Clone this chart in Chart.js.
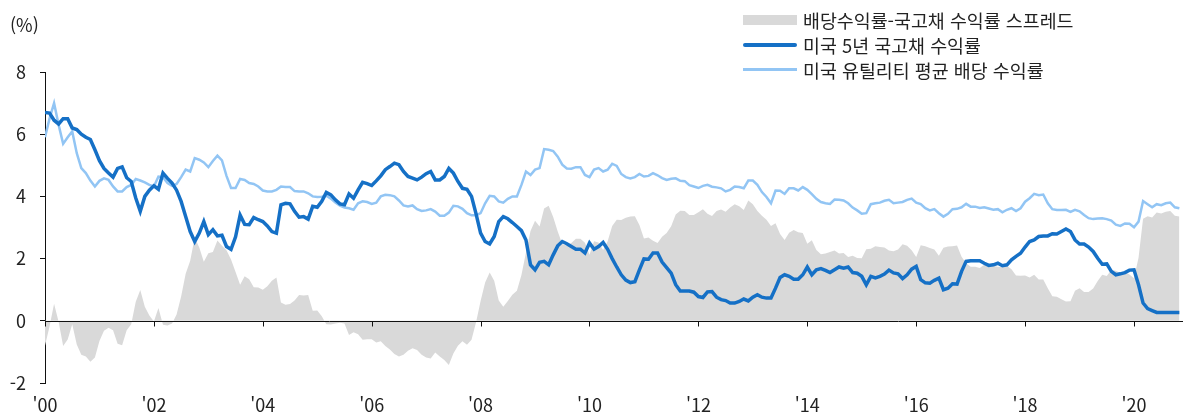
<!DOCTYPE html>
<html lang="ko">
<head>
<meta charset="utf-8">
<title>미국 유틸리티 배당 수익률과 5년 국고채 수익률</title>
<script src="https://cdn.jsdelivr.net/npm/chart.js@4.4.1/dist/chart.umd.min.js"></script>
<style>
  body { margin: 0; background: #fff; }
  #wrap { position: relative; width: 1188px; height: 417px; font-family: "Noto Sans CJK KR", "Noto Sans", sans-serif; color: #222; }
  #unit { position: absolute; left: 10px; top: 11px; font-size: 18px; }
  #legend { position: absolute; left: 743px; top: 7px; font-size: 18.4px; }
  .row { height: 25px; display: flex; align-items: center; }
  .sw { width: 54px; margin-right: 6px; }
</style>
</head>
<body>
<div id="wrap">
  <canvas id="chart1" width="1188" height="417"></canvas>
  <div id="unit">(%)</div>
  <div id="legend">
    <div class="row"><span class="sw" style="height:10px;background:#d9d9d9"></span>배당수익률-국고채 수익률 스프레드</div>
    <div class="row"><span class="sw" style="height:4px;border-radius:2px;background:#1570c6"></span>미국 5년 국고채 수익률</div>
    <div class="row"><span class="sw" style="height:3px;background:#92c5f4"></span>미국 유틸리티 평균 배당 수익률</div>
  </div>
</div>
<script>
// 월별 데이터: 2000년 1월 ~ 2020년 11월
var treasury5y = [
  6.70, 6.68, 6.45, 6.33, 6.50, 6.50, 6.20, 6.15, 6.00, 5.90, 5.83, 5.50,
  5.15, 4.90, 4.75, 4.62, 4.90, 4.95, 4.60, 4.48, 3.95, 3.52, 4.00, 4.20,
  4.34, 4.23, 4.75, 4.58, 4.43, 4.20, 3.84, 3.35, 2.87, 2.55, 2.82, 3.19,
  2.77, 2.93, 2.73, 2.75, 2.39, 2.30, 2.70, 3.40, 3.10, 3.09, 3.32, 3.25,
  3.19, 3.05, 2.87, 2.82, 3.73, 3.78, 3.76, 3.52, 3.33, 3.35, 3.27, 3.68,
  3.65, 3.84, 4.13, 4.05, 3.89, 3.76, 3.73, 4.08, 3.94, 4.21, 4.45, 4.41,
  4.35, 4.50, 4.66, 4.86, 4.96, 5.07, 5.02, 4.80, 4.64, 4.59, 4.53, 4.62,
  4.73, 4.80, 4.53, 4.53, 4.64, 4.90, 4.75, 4.48, 4.26, 4.23, 4.00, 3.44,
  2.82, 2.55, 2.47, 2.71, 3.19, 3.35, 3.28, 3.16, 3.03, 2.90, 2.60, 1.80,
  1.64, 1.88, 1.91, 1.80, 2.12, 2.41, 2.55, 2.48, 2.39, 2.30, 2.30, 2.18,
  2.50, 2.30, 2.39, 2.52, 2.30, 2.00, 1.73, 1.48, 1.31, 1.23, 1.26, 1.64,
  1.99, 1.98, 2.18, 2.18, 1.89, 1.71, 1.53, 1.16, 0.96, 0.96, 0.96, 0.92,
  0.78, 0.75, 0.93, 0.94, 0.76, 0.68, 0.65, 0.57, 0.57, 0.62, 0.70, 0.64,
  0.76, 0.84, 0.76, 0.73, 0.73, 1.05, 1.39, 1.48, 1.43, 1.34, 1.34, 1.48,
  1.73, 1.48, 1.64, 1.68, 1.62, 1.55, 1.64, 1.73, 1.69, 1.73, 1.55, 1.53,
  1.43, 1.16, 1.43, 1.38, 1.43, 1.50, 1.63, 1.54, 1.51, 1.36, 1.48, 1.66,
  1.75, 1.32, 1.22, 1.21, 1.30, 1.37, 1.00, 1.05, 1.19, 1.18, 1.59, 1.91,
  1.93, 1.93, 1.93, 1.85, 1.78, 1.80, 1.85, 1.77, 1.80, 1.96, 2.07, 2.17,
  2.37, 2.55, 2.60, 2.71, 2.73, 2.73, 2.80, 2.79, 2.87, 2.95, 2.87, 2.60,
  2.47, 2.47, 2.37, 2.23, 2.01, 1.82, 1.83, 1.59, 1.48, 1.51, 1.55, 1.63,
  1.64, 1.16, 0.57, 0.39, 0.33, 0.27, 0.27, 0.27, 0.27, 0.27, 0.27
];
var utilityYield = [
  5.90, 6.50, 7.00, 6.30, 5.69, 5.90, 6.09, 5.39, 4.91, 4.75, 4.51, 4.32,
  4.50, 4.58, 4.53, 4.32, 4.16, 4.16, 4.30, 4.37, 4.56, 4.51, 4.45, 4.37,
  4.32, 4.64, 4.62, 4.43, 4.34, 4.40, 4.62, 4.86, 4.80, 5.23, 5.18, 5.09,
  4.94, 5.14, 5.31, 5.16, 4.66, 4.27, 4.27, 4.56, 4.53, 4.43, 4.40, 4.32,
  4.19, 4.16, 4.16, 4.21, 4.32, 4.30, 4.30, 4.17, 4.16, 4.16, 4.10, 4.00,
  3.98, 3.99, 4.02, 3.93, 3.80, 3.70, 3.64, 3.62, 3.57, 3.78, 3.84, 3.82,
  3.76, 3.80, 4.00, 4.05, 4.04, 4.00, 3.87, 3.71, 3.68, 3.71, 3.59, 3.53,
  3.55, 3.59, 3.51, 3.38, 3.38, 3.48, 3.70, 3.68, 3.60, 3.46, 3.39, 3.39,
  3.46, 3.78, 4.02, 4.00, 3.84, 3.80, 3.92, 4.00, 4.00, 4.37, 4.80, 4.69,
  4.86, 4.91, 5.52, 5.50, 5.46, 5.28, 5.02, 4.90, 4.89, 4.94, 4.94, 4.69,
  4.62, 4.86, 4.91, 4.80, 4.86, 5.05, 4.98, 4.72, 4.62, 4.58, 4.62, 4.72,
  4.64, 4.66, 4.75, 4.68, 4.59, 4.53, 4.57, 4.58, 4.50, 4.49, 4.36, 4.32,
  4.27, 4.34, 4.37, 4.31, 4.29, 4.26, 4.16, 4.21, 4.32, 4.30, 4.26, 4.51,
  4.51, 4.37, 4.14, 3.98, 3.78, 4.19, 4.18, 4.08, 4.26, 4.26, 4.19, 4.30,
  4.21, 4.07, 3.92, 3.82, 3.78, 3.76, 3.90, 3.89, 3.87, 3.78, 3.64, 3.55,
  3.44, 3.46, 3.75, 3.78, 3.80, 3.86, 3.89, 3.78, 3.80, 3.82, 3.89, 3.93,
  3.80, 3.75, 3.62, 3.55, 3.59, 3.46, 3.35, 3.44, 3.59, 3.60, 3.65, 3.76,
  3.67, 3.67, 3.63, 3.65, 3.61, 3.57, 3.59, 3.49, 3.57, 3.62, 3.53, 3.62,
  3.83, 3.94, 4.08, 4.04, 4.06, 3.78, 3.59, 3.56, 3.56, 3.57, 3.50, 3.57,
  3.52, 3.40, 3.30, 3.27, 3.29, 3.30, 3.27, 3.22, 3.09, 3.05, 3.13, 3.12,
  3.01, 3.19, 3.85, 3.75, 3.65, 3.75, 3.72, 3.78, 3.80, 3.65, 3.62
];
var spread = [
  -0.80, -0.18, 0.55, -0.03, -0.81, -0.60, -0.11, -0.76, -1.09, -1.15, -1.32, -1.18,
  -0.65, -0.32, -0.22, -0.30, -0.74, -0.79, -0.30, -0.11, 0.61, 0.99, 0.45, 0.17,
  -0.02, 0.41, -0.13, -0.15, -0.09, 0.20, 0.78, 1.51, 1.93, 2.68, 2.36, 1.90,
  2.17, 2.21, 2.58, 2.41, 2.27, 1.97, 1.57, 1.16, 1.43, 1.34, 1.08, 1.07,
  1.00, 1.11, 1.29, 1.39, 0.59, 0.52, 0.54, 0.65, 0.83, 0.81, 0.83, 0.32,
  0.33, 0.15, -0.11, -0.12, -0.09, -0.06, -0.09, -0.46, -0.37, -0.43, -0.61, -0.59,
  -0.59, -0.70, -0.66, -0.81, -0.92, -1.07, -1.15, -1.09, -0.96, -0.88, -0.94, -1.09,
  -1.18, -1.21, -1.02, -1.15, -1.26, -1.42, -1.05, -0.80, -0.66, -0.77, -0.61, -0.05,
  0.64, 1.23, 1.55, 1.29, 0.65, 0.45, 0.64, 0.84, 0.97, 1.47, 2.20, 2.89,
  3.22, 3.03, 3.61, 3.70, 3.34, 2.87, 2.47, 2.42, 2.50, 2.64, 2.64, 2.51,
  2.12, 2.56, 2.52, 2.28, 2.56, 3.05, 3.25, 3.24, 3.31, 3.35, 3.36, 3.08,
  2.65, 2.68, 2.57, 2.50, 2.70, 2.82, 3.04, 3.42, 3.54, 3.53, 3.40, 3.40,
  3.49, 3.59, 3.44, 3.37, 3.53, 3.58, 3.51, 3.64, 3.75, 3.68, 3.56, 3.87,
  3.75, 3.53, 3.38, 3.25, 3.05, 3.14, 2.79, 2.60, 2.83, 2.92, 2.85, 2.82,
  2.48, 2.59, 2.28, 2.14, 2.16, 2.21, 2.26, 2.16, 2.18, 2.05, 2.09, 2.02,
  2.01, 2.30, 2.32, 2.40, 2.37, 2.36, 2.26, 2.24, 2.29, 2.46, 2.41, 2.27,
  2.05, 2.43, 2.40, 2.34, 2.29, 2.09, 2.35, 2.39, 2.40, 2.42, 2.06, 1.85,
  1.74, 1.74, 1.70, 1.80, 1.83, 1.77, 1.74, 1.72, 1.77, 1.66, 1.46, 1.45,
  1.46, 1.39, 1.48, 1.33, 1.33, 1.05, 0.79, 0.77, 0.69, 0.62, 0.63, 0.97,
  1.05, 0.93, 0.93, 1.04, 1.28, 1.48, 1.44, 1.63, 1.61, 1.54, 1.58, 1.49,
  1.37, 2.03, 3.28, 3.36, 3.32, 3.48, 3.45, 3.51, 3.53, 3.38, 3.35
];
var xTicks = [0, 24, 48, 72, 96, 120, 144, 168, 192, 216, 240];
var xTickLabels = ["'00", "'02", "'04", "'06", "'08", "'10", "'12", "'14", "'16", "'18", "'20"];

function toPoints(arr) {
    return arr.map(function (v, i) {
        return { x: i, y: v };
    });
}

var axisFont = { family: '"Noto Sans CJK KR", "Noto Sans", sans-serif', size: 18 };

// 0 기준선과 x축 눈금
var zeroAxis = {
    id: 'zeroAxis',
    afterDatasetsDraw: function (chart) {
        var ctx = chart.ctx;
        var xs = chart.scales.x;
        var ys = chart.scales.y;
        var y0 = Math.round(ys.getPixelForValue(0)) + 0.5;
        ctx.save();
        ctx.strokeStyle = '#111';
        ctx.lineWidth = 1;
        ctx.beginPath();
        ctx.moveTo(xs.left, y0);
        ctx.lineTo(xs.right, y0);
        xTicks.forEach(function (t) {
            var px = Math.round(xs.getPixelForValue(t)) + 0.5;
            ctx.moveTo(px, y0);
            ctx.lineTo(px, y0 + 5);
        });
        ctx.stroke();
        ctx.restore();
    }
};

var canvas = document.getElementById('chart1').getContext('2d');

window.line = new Chart(canvas, {
    type: 'line',
    data: {
        datasets: [{
            label: '미국 5년 국고채 수익률',
            data: toPoints(treasury5y),
            borderColor: '#1570c6',
            borderWidth: 3.5,
            pointRadius: 0,
            tension: 0,
            fill: false,
            order: 0
        }, {
            label: '미국 유틸리티 평균 배당 수익률',
            data: toPoints(utilityYield),
            borderColor: '#92c5f4',
            borderWidth: 2.5,
            pointRadius: 0,
            tension: 0,
            fill: false,
            order: 1
        }, {
            label: '배당수익률-국고채 수익률 스프레드',
            data: toPoints(spread),
            borderWidth: 0,
            borderColor: 'rgba(0,0,0,0)',
            backgroundColor: '#d9d9d9',
            pointRadius: 0,
            tension: 0,
            fill: 'origin',
            order: 2
        }]
    },
    options: {
        responsive: false,
        animation: false,
        devicePixelRatio: 1,
        layout: {
            padding: { left: 0, right: 5, top: 72, bottom: 0 }
        },
        plugins: {
            legend: { display: false },
            tooltip: { enabled: false }
        },
        scales: {
            x: {
                type: 'linear',
                min: 0,
                max: 250.8,
                afterBuildTicks: function (scale) {
                    scale.ticks = xTicks.map(function (v) { return { value: v }; });
                },
                afterFit: function (scale) { scale.height = 34; },
                grid: { display: false },
                border: { display: false },
                ticks: {
                    autoSkip: false,
                    maxRotation: 0,
                    padding: 3,
                    color: '#222',
                    font: axisFont,
                    callback: function (v) { return xTickLabels[xTicks.indexOf(v)]; }
                }
            },
            y: {
                min: -2,
                max: 8,
                afterFit: function (scale) { scale.width = 45; },
                grid: {
                    drawOnChartArea: false,
                    drawTicks: true,
                    tickLength: 5,
                    color: '#111'
                },
                border: { display: true, color: '#111', width: 1 },
                ticks: {
                    stepSize: 2,
                    padding: 14,
                    color: '#222',
                    font: axisFont
                }
            }
        }
    },
    plugins: [zeroAxis]
});
</script>
</body>
</html>
